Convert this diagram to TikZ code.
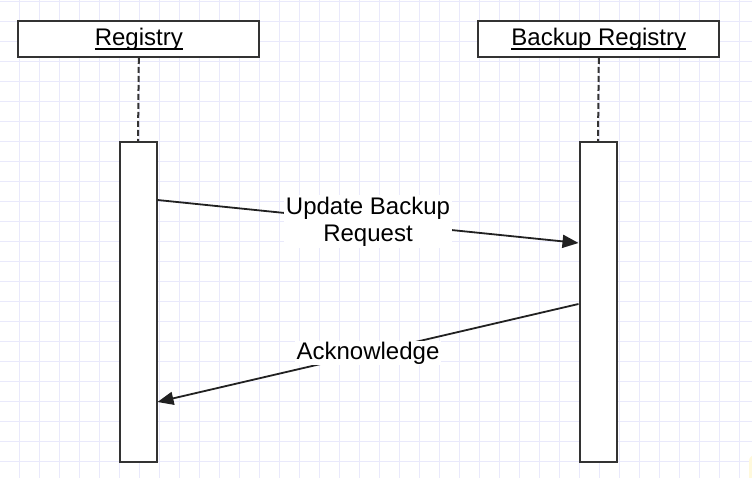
\documentclass[tikz,border=0pt]{standalone}
\usepackage{fontspec}
\setmainfont{Liberation Sans}
\usetikzlibrary{arrows.meta}
\definecolor{gridc}{HTML}{E9E9FB}
\definecolor{boxc}{HTML}{333333}
\definecolor{noteyellow}{HTML}{FFF9DC}
\newcommand{\myul}[1]{\setbox0\hbox{#1}\rlap{\rule[-4.4pt]{\wd0}{1.8pt}}\box0}
\tikzset{
  x=1pt, y=-1pt,
  head/.style={draw=boxc, line width=2pt, fill=white, minimum width=241pt, minimum height=36pt, inner sep=0pt, font=\fontsize{24}{27}\selectfont},
  actbar/.style={draw=boxc, line width=2pt, fill=white, minimum width=37pt, minimum height=320pt, inner sep=0pt},
  lifeline/.style={draw=boxc, line width=2pt, dash pattern=on 6pt off 3pt},
  msg/.style={draw=black!87, line width=1.8pt, -{Triangle[length=16pt, width=13pt]}},
  msglabel/.style={fill=white, inner sep=2pt, align=center, font=\fontsize{24}{27}\selectfont, text=black}
}
\begin{document}
\begin{tikzpicture}
\useasboundingbox (0,0) rectangle (752,478);
\fill[white] (0,0) rectangle (752,478);
\begin{scope}
\clip (0,0) rectangle (752,478);
\foreach \gx in {0,...,37} {\draw[gridc, line width=1.4pt] (19.5+20*\gx,0) -- (19.5+20*\gx,478);}
\foreach \gy in {0,...,23} {\draw[gridc, line width=1.4pt] (0,1.7+20*\gy) -- (752,1.7+20*\gy);}
\fill[noteyellow, rounded corners=6pt] (749,455) rectangle (770,500);
\end{scope}
% heads
\node[head] (reg) at (138.8,39) {\myul{Registry}};
\node[head] (bak) at (598.8,39) {\myul{Backup Registry}};
% activation bars
\node[actbar, anchor=north] (regbar) at (138,141) {};
\node[actbar, anchor=north] (bakbar) at (598,141) {};
% lifelines
\draw[lifeline] (reg.south) -- (regbar.north);
\draw[lifeline] (bak.south) -- (bakbar.north);
% messages
\coordinate (m1s) at (regbar.north east |- 0,200);
\coordinate (m1e) at (bakbar.north west |- 0,243);
\coordinate (m2s) at (bakbar.north west |- 0,304);
\coordinate (m2e) at (regbar.north east |- 0,402);
\draw[msg] (m1s) -- node[msglabel] (l1) {Update Backup\\Request} (m1e);
\draw[msg] (m2s) -- node[msglabel, inner ysep=1pt] (l2) {Acknowledge} (m2e);
\end{tikzpicture}
\end{document}
